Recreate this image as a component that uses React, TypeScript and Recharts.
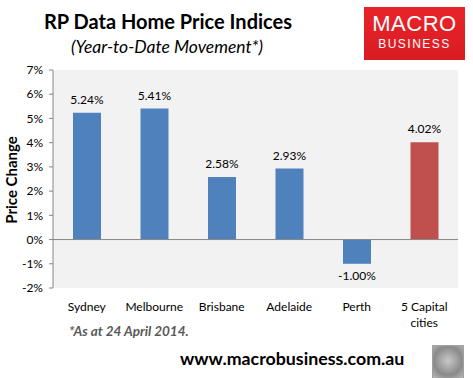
import React from 'react';
import { BarChart, Bar, XAxis, YAxis, CartesianGrid, ReferenceLine, Cell, LabelList } from 'recharts';

const cities = ['Sydney', 'Melbourne', 'Brisbane', 'Adelaide', 'Perth', '5 Capital cities'];
const ytdChange = [5.24, 5.41, 2.58, 2.93, -1.0, 4.02];
const yTicks = [-2, -1, 0, 1, 2, 3, 4, 5, 6, 7];
const highlighted = '5 Capital cities';

const data = cities.map((city, i) => ({ city, value: ytdChange[i] }));

const FONT = 'Lato, "Open Sans", sans-serif';

const CategoryTick = ({ x, y, payload }: any) => {
  const label: string = payload.value;
  const words = label.split(' ');
  const lines = label.length > 10 ? [words.slice(0, -1).join(' '), words[words.length - 1]] : [label];
  return (
    <text x={x} y={y} textAnchor="middle" fill="#000" fontSize={12} fontFamily={FONT}>
      {lines.map((line, i) => (
        <tspan key={i} x={x} dy={i === 0 ? '0.71em' : 16}>
          {line}
        </tspan>
      ))}
    </text>
  );
};

const ValueLabel = ({ x, y, width, height, value }: any) => {
  const top = Math.min(y, y + height);
  const bottom = Math.max(y, y + height);
  const cx = x + width / 2;
  const ty = value >= 0 ? top - 9 : bottom + 16;
  return (
    <text x={cx} y={ty} textAnchor="middle" fill="#000" fontSize={12} fontFamily={FONT}>
      {`${value.toFixed(2)}%`}
    </text>
  );
};

export default function App() {
  return (
    <div
      style={{
        position: 'absolute',
        left: 0,
        top: 0,
        width: 473,
        height: 378,
        background: '#fff',
        overflow: 'hidden',
        fontFamily: FONT,
      }}
    >
      <BarChart
        width={473}
        height={378}
        data={data}
        margin={{ top: 70, right: 15, bottom: 0, left: 0 }}
        barCategoryGap={0}
      >
        <CartesianGrid horizontal={false} vertical={false} fill="#f2f2f2" />
        <XAxis
          dataKey="city"
          axisLine={false}
          tickLine={false}
          height={90}
          tickMargin={8}
          interval={0}
          tick={<CategoryTick />}
        />
        <YAxis
          width={53}
          domain={[-2, 7]}
          ticks={yTicks}
          tickFormatter={(v) => `${v}%`}
          axisLine={{ stroke: '#868686' }}
          tickLine={{ stroke: '#868686' }}
          tickSize={4}
          tickMargin={6}
          tick={{ fill: '#000', fontSize: 12, fontFamily: FONT }}
        />
        <ReferenceLine y={0} stroke="#868686" />
        <Bar dataKey="value" barSize={28} isAnimationActive={false}>
          {data.map((d) => (
            <Cell key={d.city} fill={d.city === highlighted ? '#c0504d' : '#4f81bd'} />
          ))}
          <LabelList dataKey="value" content={<ValueLabel />} />
        </Bar>
      </BarChart>

      <div
        style={{
          position: 'absolute',
          left: 11,
          top: 180,
          transform: 'translate(-50%, -50%) rotate(-90deg)',
          fontSize: 15,
          fontWeight: 700,
          whiteSpace: 'nowrap',
        }}
      >
        Price Change
      </div>

      <div style={{ position: 'absolute', left: 0, width: 336, top: 9, textAlign: 'center', fontSize: 20, fontWeight: 700 }}>
        RP Data Home Price Indices
      </div>
      <div style={{ position: 'absolute', left: 0, width: 334, top: 36, textAlign: 'center', fontSize: 17.5, fontStyle: 'italic' }}>
        (Year-to-Date Movement*)
      </div>

      <div
        style={{
          position: 'absolute',
          left: 364,
          top: 7,
          width: 101,
          height: 53,
          background: 'linear-gradient(180deg, #e8242a 0%, #d91c22 100%)',
          color: '#fff',
          textAlign: 'center',
          fontFamily: '"Liberation Sans", Arial, sans-serif',
        }}
      >
        <div style={{ fontSize: 22, lineHeight: '22px', marginTop: 6, letterSpacing: 0.5 }}>MACRO</div>
        <div style={{ fontSize: 12, lineHeight: '14px', marginTop: 2, letterSpacing: 1.5 }}>BUSINESS</div>
      </div>

      <div
        style={{
          position: 'absolute',
          left: 69,
          top: 323,
          fontSize: 13.5,
          fontWeight: 700,
          fontStyle: 'italic',
          color: '#595959',
        }}
      >
        *As at 24 April 2014.
      </div>
      <div style={{ position: 'absolute', left: 180, top: 347, fontSize: 17.8, fontWeight: 700, color: '#000' }}>
        www.macrobusiness.com.au
      </div>
      <div
        style={{
          position: 'absolute',
          left: 432,
          top: 345,
          width: 30,
          height: 33,
          border: '1px solid #a0a0a0',
          background: 'radial-gradient(circle at 50% 45%, #c8c8c8 0%, #8a8a8a 60%, #bdbdbd 100%)',
        }}
      />
    </div>
  );
}
